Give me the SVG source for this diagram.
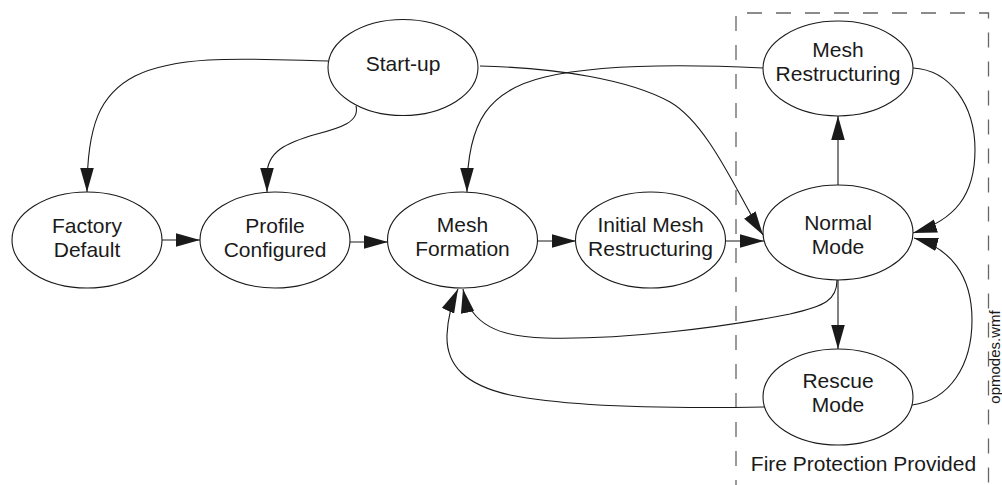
<svg xmlns="http://www.w3.org/2000/svg" width="1002" height="485" viewBox="0 0 1002 485">
<style>
.node ellipse{fill:#fff;stroke:#1a1a1a;stroke-width:1.1}
text{font-family:"Liberation Sans",Arial,sans-serif;font-size:21px;fill:#1a1a1a;text-anchor:middle}
.edges path{fill:none;stroke:#1a1a1a;stroke-width:1.1;marker-end:url(#ah)}
.zone{fill:none;stroke:#666;stroke-width:1.3;stroke-dasharray:15 14}
</style>
<defs>
<marker id="ah" markerUnits="userSpaceOnUse" markerWidth="24" markerHeight="14" viewBox="0 0 23 13" refX="23" refY="6.5" orient="auto">
<path d="M0,0 L23,6.5 L0,13 z" fill="#1a1a1a"/>
</marker>
</defs>
<rect width="1002" height="485" fill="#fff"/>
<g id="zone">
<path class="zone" d="M736,495 V13 H988.5 V495"/>
<text x="863.5" y="471">Fire Protection Provided</text>
</g>
<g class="edges" id="connectors">
<path d="M328,61 C250,59 180,54 135,76 C100,94 87,125 87,192"/>
<path d="M356,106 C360,122 340,128 317,134 C285,143 267,152 267,175 L267,192"/>
<path d="M480,66 C560,68 630,80 670,102 C710,125 740,200 763,235"/>
<path d="M763,68 C680,64 600,64 545,77 C490,90 467,120 467,192"/>
<path d="M913,68 C950,70 975,105 975,150 C975,195 955,220 913,233"/>
<path d="M912,405 C950,400 972,365 972,320 C972,275 950,248 914,238"/>
<path d="M838,185 L838,116"/>
<path d="M838,280 L838,349"/>
<path d="M837,280 C837,300 825,306 790,314 C720,328 620,340 545,338 C500,337 470,325 463,289"/>
<path d="M764,407 C650,409 560,405 510,395 C465,385 446,365 447,335 C448,315 452,302 458,289"/>
<path d="M162,240 L200,240"/>
<path d="M350,242 L388,242"/>
<path d="M537,241 L576,241"/>
<path d="M725,241 L764,241"/>
</g>
<g class="node" id="startup"><ellipse cx="403" cy="67.5" rx="75" ry="48"/><text x="403" y="71">Start-up</text></g>
<g class="node" id="factory"><ellipse cx="87" cy="240" rx="75" ry="48"/><text x="87" y="233">Factory</text><text x="87" y="257">Default</text></g>
<g class="node" id="profile"><ellipse cx="275" cy="240" rx="75" ry="48"/><text x="275" y="232.5">Profile</text><text x="275" y="256.5">Configured</text></g>
<g class="node" id="meshformation"><ellipse cx="462.5" cy="240" rx="75" ry="48"/><text x="462.5" y="232">Mesh</text><text x="462.5" y="255.5">Formation</text></g>
<g class="node" id="initial"><ellipse cx="650.5" cy="240" rx="75" ry="48"/><text x="650.5" y="232">Initial Mesh</text><text x="650.5" y="255.5">Restructuring</text></g>
<g class="node" id="normal"><ellipse cx="838" cy="232.5" rx="75" ry="47.5"/><text x="838" y="229.5">Normal</text><text x="838" y="253.5">Mode</text></g>
<g class="node" id="meshrestr"><ellipse cx="838" cy="68.5" rx="75" ry="47.5"/><text x="838" y="57">Mesh</text><text x="838" y="81">Restructuring</text></g>
<g class="node" id="rescue"><ellipse cx="838" cy="397" rx="75" ry="48"/><text x="838" y="388">Rescue</text><text x="838" y="412">Mode</text></g>
<text transform="translate(1000,357) rotate(-90)" style="font-size:15px">opmodes.wmf</text>
</svg>
